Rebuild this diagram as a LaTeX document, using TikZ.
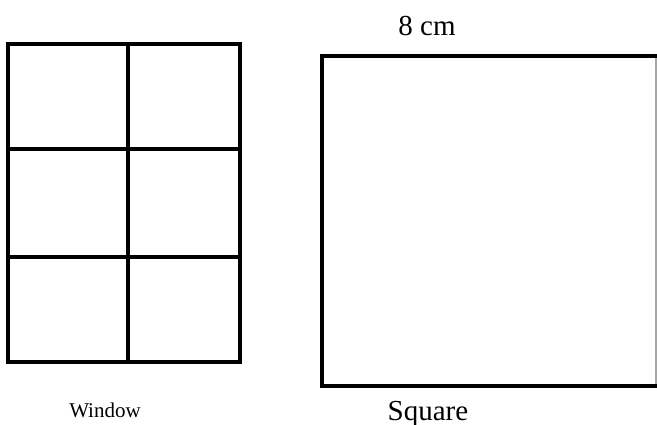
\documentclass[tikz,border=0pt]{standalone}
\usepackage{fontspec}
\setmainfont{Liberation Serif}
\begin{document}
\begin{tikzpicture}[x=1pt,y=-1pt,
  thickline/.style={line width=3.5pt,black,line cap=rect},
  sqline/.style={line width=4pt,black,line cap=rect},
  lbl/.style={anchor=base,inner sep=0pt}]
\useasboundingbox (0,0) rectangle (657,425);
% window
\draw[thickline] (8,44) rectangle (240,362);
\draw[thickline] (128,44) -- (128,362);
\draw[thickline] (8,149) -- (240,149);
\draw[thickline] (8,257) -- (240,257);
% square
\draw[gray!70,line width=1.2pt] (656,56) -- (656,386);
\draw[sqline] (656,56) -- (322,56) -- (322,386) -- (656,386);
% labels
\node[lbl,font=\fontsize{21}{24}\selectfont] (w) at (105,417) {Window};
\node[lbl,font=\fontsize{29}{32}\selectfont] (c) at (427,36) {8 cm};
\node[lbl,font=\fontsize{29}{32}\selectfont] (s) at (428,420) {Square};
\end{tikzpicture}
\end{document}
